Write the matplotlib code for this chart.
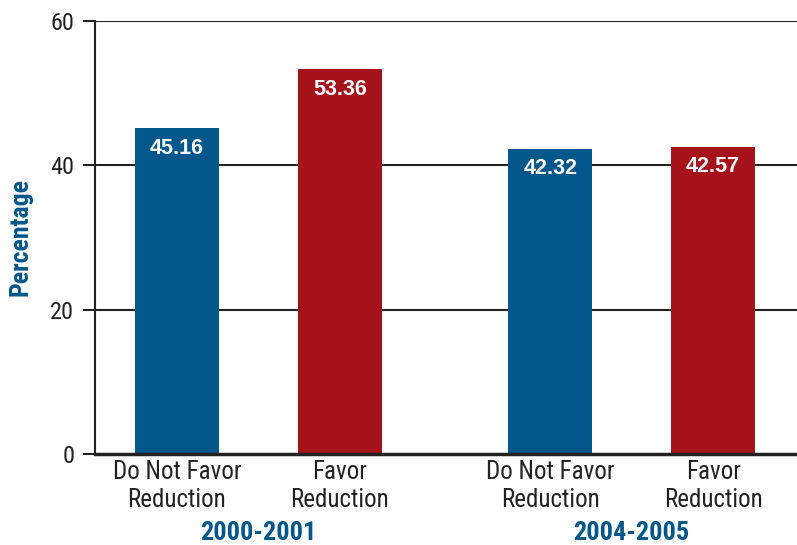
"""
Favor / do not favor reduction, two survey periods.
"""

import matplotlib
matplotlib.use('Agg')
import matplotlib.pyplot as plt
import numpy as np

categories = ["Do Not Favor\nReduction", "Favor\nReduction",
              "Do Not Favor\nReduction", "Favor\nReduction"]
values = [45.16, 53.36, 42.32, 42.57]
groups = ["2000-2001", "2004-2005"]
yticks = [0, 20, 40, 60]

BLUE = '#03578b'
RED = '#a6131a'
colors = [BLUE, RED, BLUE, RED]

narrow = dict(family=['Roboto Condensed', 'Archivo Narrow', 'DejaVu Sans'])

fig = plt.figure(figsize=(7.97, 5.45), dpi=100)
ax = fig.add_axes([95 / 797, 1 - 454 / 545, 1 - 95 / 797, (454 - 21) / 545])

x = np.array([0, 1, 2.29, 3.29])
ax.bar(x, values, width=0.515, color=colors, zorder=3)

for xi, v in zip(x, values):
    ax.text(xi, v - 2.8, f"{v:.2f}", ha='center', va='center', color='white',
            fontsize=15.5, fontweight='bold', family=['Liberation Sans', 'DejaVu Sans'],
            stretch='normal', zorder=4)

ax.set_ylim(0, 60)
ax.set_xlim(-0.503, 3.805)
ax.set_yticks(yticks)
ax.set_yticklabels([str(t) for t in yticks], fontsize=17.5, color='#222222', **narrow)
ax.set_xticks(x)
ax.set_xticklabels(categories, fontsize=18, color='#222222', linespacing=1.25, **narrow)
ax.tick_params(axis='x', length=0, pad=4)
ax.tick_params(axis='y', length=9, width=1.5, color='#222222', pad=6)

for t in yticks[1:]:
    ax.axhline(t, color='#222222', linewidth=1.5, zorder=1)
ax.axhline(0, color='#222222', linewidth=2.5, zorder=5, clip_on=False)

for side in ['top', 'right', 'bottom']:
    ax.spines[side].set_visible(False)
ax.spines['left'].set_color('#222222')
ax.spines['left'].set_linewidth(1.5)

ax.set_ylabel("Percentage", color=BLUE, fontsize=18.5, fontweight='bold', labelpad=13, **narrow)

for i, g in enumerate(groups):
    gx = (x[2 * i] + x[2 * i + 1]) / 2
    ax.text(gx, -10.95, g, ha='center', va='center', color=BLUE, fontsize=19,
            fontweight='bold', clip_on=False, **narrow)

fig.savefig("out.png", dpi=100)
plt.close(fig)
